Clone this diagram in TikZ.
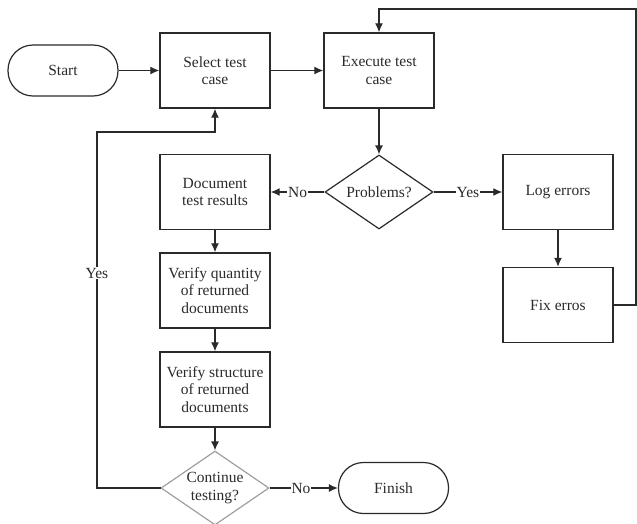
\documentclass[tikz,border=0pt]{standalone}
\usepackage{fontspec}
\setmainfont{Liberation Serif}
\usetikzlibrary{shapes.geometric,arrows.meta}
\definecolor{ink}{HTML}{2A2A2A}
\tikzset{
  box/.style={draw=ink,line width=1.4pt,minimum width=110pt,minimum height=75pt,inner sep=0pt,align=center,text=ink},
  term/.style={draw=ink,line width=1.2pt,rounded corners=25pt,minimum width=110pt,minimum height=51pt,inner sep=0pt,align=center,text=ink},
  dec/.style={draw=ink,line width=1.2pt,diamond,aspect=1.46,minimum width=108pt,minimum height=74pt,inner sep=0pt,align=center,text=ink},
  wire/.style={draw=ink,line width=1.3pt,sharp corners,line join=miter,line cap=rect},
  conn/.style={wire,line cap=butt,-{Latex[length=9pt,width=8pt]}},
  lbl/.style={fill=white,inner sep=1pt,text=ink}
}
\begin{document}
\begin{tikzpicture}[x=1pt,y=-1pt,font=\fontsize{15.5}{17.5}\selectfont]
\useasboundingbox (0,0) rectangle (637,523);
\node[term] (start) at (63,70.5) {Start};
\node[box] (sel) at (215,70.5) {Select test\\case};
\node[box] (exec) at (379,70.5) {Execute test\\case};
\node[dec] (prob) at (379,192) {Problems?};
\node[box] (doc) at (215,192) {Document\\test results};
\node[box] (log) at (558,192) {Log errors};
\node[box] (fix) at (558,305) {Fix erros};
\node[box] (vq) at (215,290.5) {Verify quantity\\of returned\\documents};
\node[box] (vs) at (215,389.5) {Verify structure\\of returned\\documents};
\node[dec,draw=gray!75] (cont) at (215,488) {Continue\\testing?};
\node[term] (fin) at (393.5,488) {Finish};
\coordinate (tr) at (636,9);
\coordinate (br) at (636,305);
\coordinate (tl) at (379,9);
\coordinate (ly) at (97,132);
\coordinate (lb) at (97,488);
\coordinate (lr) at (215,132);

\draw[conn] (start.east) -- (sel.west);
\draw[conn] (sel.east) -- (exec.west);
\draw[conn] (exec.south) -- (prob.north);
\draw[conn] (prob.west) -- node[lbl] (no1) {No} (doc.east);
\draw[conn] (prob.east) -- node[lbl] (yes1) {Yes} (log.west);
\draw[conn] (log.south) -- (fix.north);
\draw[wire] (fix.east) -- (br) -- (tr) -- (tl);
\draw[conn] (tl) -- (exec.north);
\draw[conn] (doc.south) -- (vq.north);
\draw[conn] (vq.south) -- (vs.north);
\draw[conn] (vs.south) -- (cont.north);
\draw[wire] (cont.west) -- (lb) -- (ly) -- (lr);
\draw[conn] (lr) -- (sel.south);
\node[lbl] (yes2) at (97,273) {Yes};
\draw[conn] (cont.east) -- node[lbl,pos=0.46] (no2) {No} (fin.west);
\end{tikzpicture}
\end{document}
